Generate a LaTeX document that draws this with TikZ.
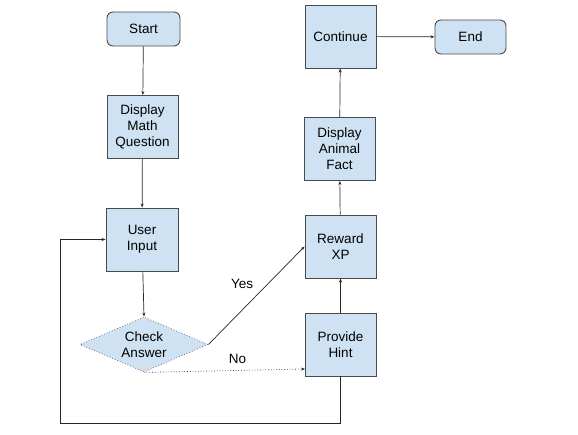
\documentclass[tikz,border=0pt]{standalone}
\usepackage{fontspec}
\setmainfont{Liberation Sans}
\usetikzlibrary{shapes.geometric,arrows.meta}

\definecolor{boxfill}{HTML}{CFE2F3}
\definecolor{boxline}{HTML}{4A4A4A}

\tikzset{
	stepbox/.style={draw=boxline, fill=boxfill, line width=0.9pt, align=center,
		minimum width=71pt, minimum height=63pt, inner sep=2pt,
		font=\fontsize{13.5}{16}\selectfont},
	termbox/.style={stepbox, rounded corners=6pt, minimum height=34pt},
	choice/.style={draw=boxline!80, fill=boxfill, dotted, line width=0.8pt, diamond,
		align=center, aspect=2.3, minimum width=128pt, minimum height=55pt, inner sep=0pt,
		font=\fontsize{13.5}{16}\selectfont},
	flow/.style={-{Stealth[length=4pt,width=3pt]}, line width=0.7pt, draw=black!85},
	lbl/.style={font=\fontsize{13.5}{16}\selectfont}
}

\begin{document}
\begin{tikzpicture}[x=1pt,y=-1pt]

	%frame
	\useasboundingbox (0,0) rectangle (578,435);

	%left column
	\node[termbox, minimum width=73pt] (start) at (143.5,29) {Start};
	\node[stepbox] (mathq) at (142.5,127) {Display\\Math\\Question};
	\node[stepbox, minimum width=72pt] (input) at (142,239.5) {User\\Input};
	\node[choice] (check) at (144,344.5) {Check\\Answer};

	%right column
	\node[stepbox] (hint) at (340.5,344.5) {Provide\\Hint};
	\node[stepbox] (reward) at (340.5,246.5) {Reward\\XP};
	\node[stepbox] (fact) at (339.5,149) {Display\\Animal\\Fact};
	\node[stepbox] (cont) at (340.5,36.5) {Continue};
	\node[termbox] (end) at (470.5,37) {End};

	%helper points
	\coordinate (noend) at (305,369);
	\coordinate (loopcorner) at (60,423);

	%connectors
	\draw[flow] (start) -- (mathq);
	\draw[flow] (mathq) -- (input);
	\draw[flow] (input) -- (check.north);
	\draw[flow] (check.east) -- (reward.west) node[lbl, pos=0.35, above=18pt] {Yes};
	\draw[flow, dotted] (check.south) -- (noend) node[lbl, pos=0.58, above=3pt] {No};
	\draw[flow] (hint) -- (reward);
	\draw[flow] (reward) -- (fact);
	\draw[flow] (fact) -- (cont);
	\draw[flow] (cont) -- (end);
	\draw[flow] (hint.south) |- (loopcorner) |- (input.west);

\end{tikzpicture}
\end{document}
